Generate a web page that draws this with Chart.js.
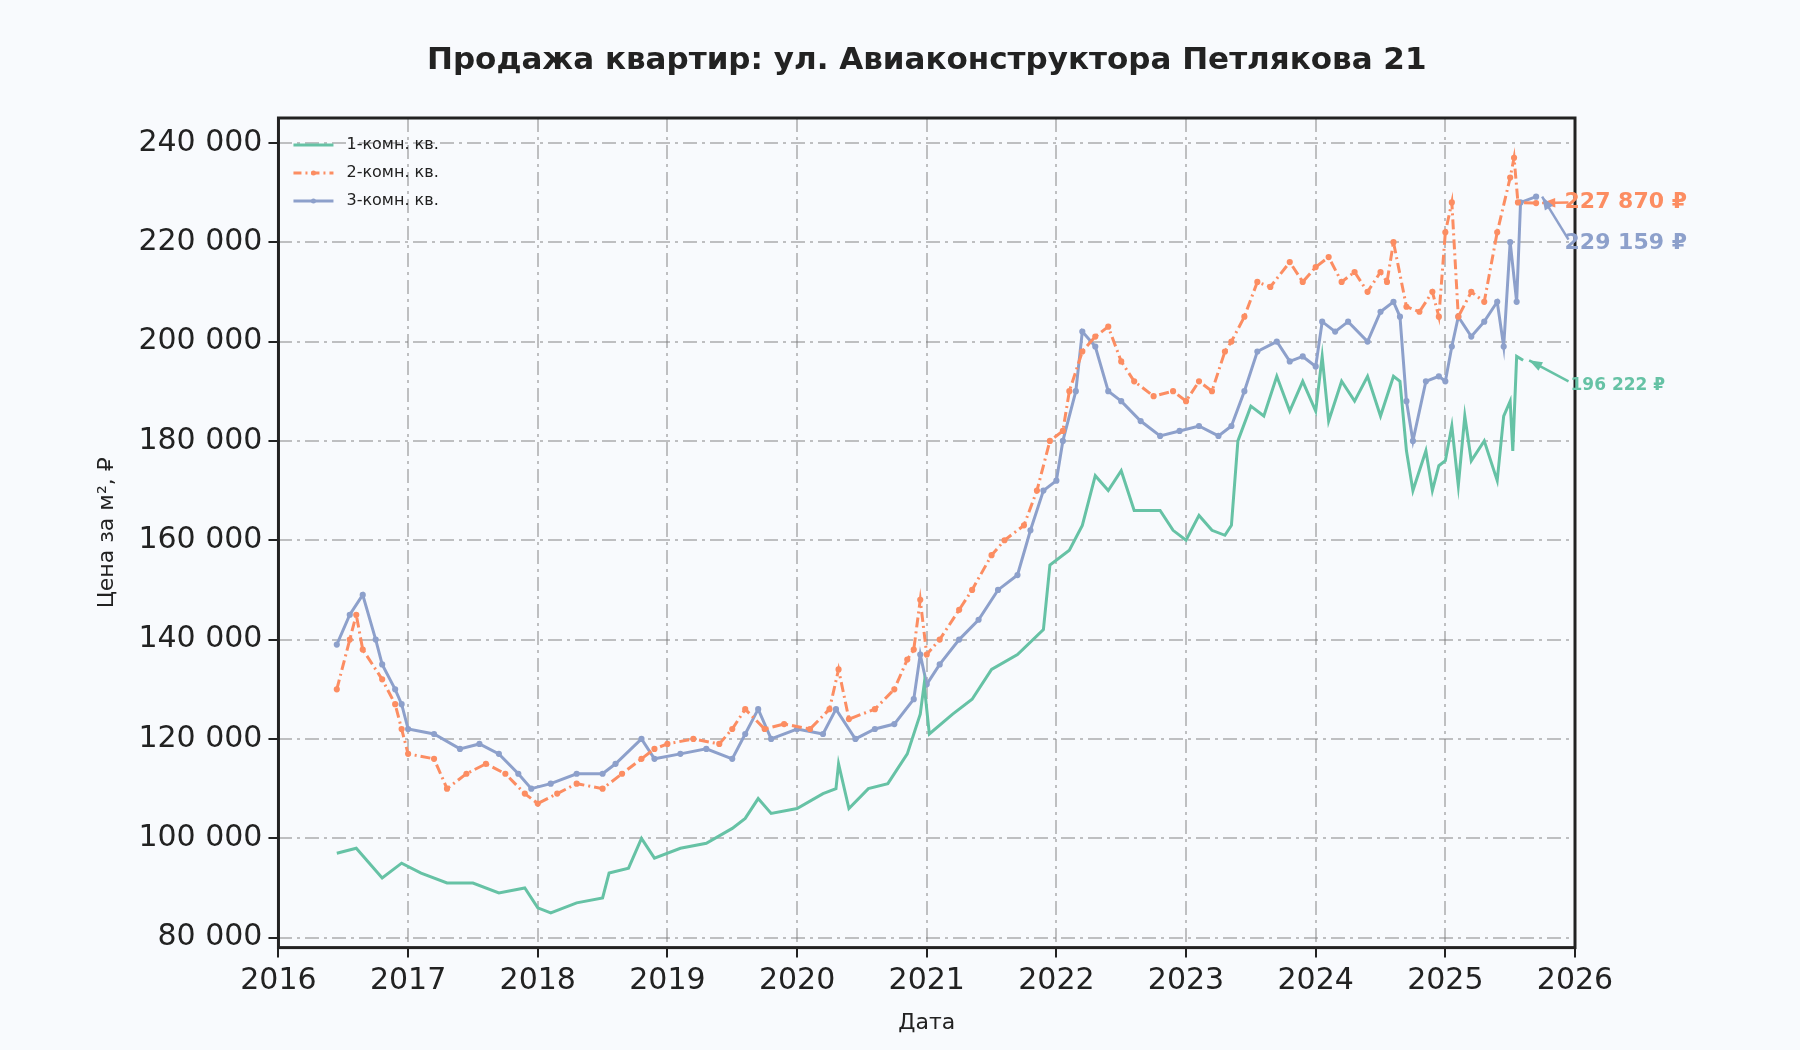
<!DOCTYPE html>
<html><head><meta charset="utf-8">
<script src="https://cdn.jsdelivr.net/npm/chart.js@4"></script>
<style>html,body{margin:0;background:#f8fafd}#w{width:1800px;height:1050px}</style>
</head><body><div id="w"><canvas id="c"></canvas></div>
<script>
const seriesNames=["1-комн. кв.","2-комн. кв.","3-комн. кв."];
const colors=["#66c2a5","#fc8d62","#8da0cb"];
const xTicks=[2016,2017,2018,2019,2020,2021,2022,2023,2024,2025,2026];
const one=[[2016.45,97000],[2016.6,98000],[2016.8,92000],[2016.95,95000],[2017.1,93000],[2017.3,91000],[2017.5,91000],[2017.7,89000],[2017.9,90000],[2018.0,86000],[2018.1,85000],[2018.3,87000],[2018.5,88000],[2018.55,93000],[2018.7,94000],[2018.8,100000],[2018.9,96000],[2019.1,98000],[2019.3,99000],[2019.5,102000],[2019.6,104000],[2019.7,108000],[2019.8,105000],[2020.0,106000],[2020.2,109000],[2020.3,110000],[2020.32,115000],[2020.4,106000],[2020.55,110000],[2020.7,111000],[2020.85,117000],[2020.95,125000],[2020.98,131000],[2021.02,121000],[2021.2,125000],[2021.35,128000],[2021.5,134000],[2021.7,137000],[2021.9,142000],[2021.95,155000],[2022.1,158000],[2022.2,163000],[2022.3,173000],[2022.4,170000],[2022.5,174000],[2022.6,166000],[2022.8,166000],[2022.9,162000],[2023.0,160000],[2023.1,165000],[2023.2,162000],[2023.3,161000],[2023.35,163000],[2023.4,180000],[2023.5,187000],[2023.6,185000],[2023.7,193000],[2023.8,186000],[2023.9,192000],[2024.0,186000],[2024.05,197000],[2024.1,184000],[2024.2,192000],[2024.3,188000],[2024.4,193000],[2024.5,185000],[2024.6,193000],[2024.65,192000],[2024.7,178000],[2024.75,170000],[2024.85,178000],[2024.9,170000],[2024.95,175000],[2025.0,176000],[2025.05,183000],[2025.1,171000],[2025.15,185000],[2025.2,176000],[2025.3,180000],[2025.4,172000],[2025.45,185000],[2025.5,188000],[2025.52,178000],[2025.55,197000],[2025.6,196222]];
const two=[[2016.45,130000],[2016.55,140000],[2016.6,145000],[2016.65,138000],[2016.8,132000],[2016.9,127000],[2016.95,122000],[2017.0,117000],[2017.2,116000],[2017.3,110000],[2017.45,113000],[2017.6,115000],[2017.75,113000],[2017.9,109000],[2018.0,107000],[2018.15,109000],[2018.3,111000],[2018.5,110000],[2018.65,113000],[2018.8,116000],[2018.9,118000],[2019.0,119000],[2019.2,120000],[2019.4,119000],[2019.5,122000],[2019.6,126000],[2019.75,122000],[2019.9,123000],[2020.1,122000],[2020.25,126000],[2020.32,134000],[2020.4,124000],[2020.6,126000],[2020.75,130000],[2020.85,136000],[2020.9,138000],[2020.95,148000],[2021.0,137000],[2021.1,140000],[2021.25,146000],[2021.35,150000],[2021.5,157000],[2021.6,160000],[2021.75,163000],[2021.85,170000],[2021.95,180000],[2022.05,182000],[2022.1,190000],[2022.2,198000],[2022.3,201000],[2022.4,203000],[2022.5,196000],[2022.6,192000],[2022.75,189000],[2022.9,190000],[2023.0,188000],[2023.1,192000],[2023.2,190000],[2023.3,198000],[2023.35,200000],[2023.45,205000],[2023.55,212000],[2023.65,211000],[2023.8,216000],[2023.9,212000],[2024.0,215000],[2024.1,217000],[2024.2,212000],[2024.3,214000],[2024.4,210000],[2024.5,214000],[2024.55,212000],[2024.6,220000],[2024.7,207000],[2024.8,206000],[2024.9,210000],[2024.95,205000],[2025.0,222000],[2025.05,228000],[2025.1,205000],[2025.2,210000],[2025.3,208000],[2025.4,222000],[2025.5,233000],[2025.53,237000],[2025.56,228000],[2025.7,227870]];
const three=[[2016.45,139000],[2016.55,145000],[2016.65,149000],[2016.75,140000],[2016.8,135000],[2016.9,130000],[2016.95,127000],[2017.0,122000],[2017.2,121000],[2017.4,118000],[2017.55,119000],[2017.7,117000],[2017.85,113000],[2017.95,110000],[2018.1,111000],[2018.3,113000],[2018.5,113000],[2018.6,115000],[2018.8,120000],[2018.9,116000],[2019.1,117000],[2019.3,118000],[2019.5,116000],[2019.6,121000],[2019.7,126000],[2019.8,120000],[2020.0,122000],[2020.2,121000],[2020.3,126000],[2020.45,120000],[2020.6,122000],[2020.75,123000],[2020.9,128000],[2020.95,137000],[2021.0,131000],[2021.1,135000],[2021.25,140000],[2021.4,144000],[2021.55,150000],[2021.7,153000],[2021.8,162000],[2021.9,170000],[2022.0,172000],[2022.05,180000],[2022.15,190000],[2022.2,202000],[2022.3,199000],[2022.4,190000],[2022.5,188000],[2022.65,184000],[2022.8,181000],[2022.95,182000],[2023.1,183000],[2023.25,181000],[2023.35,183000],[2023.45,190000],[2023.55,198000],[2023.7,200000],[2023.8,196000],[2023.9,197000],[2024.0,195000],[2024.05,204000],[2024.15,202000],[2024.25,204000],[2024.4,200000],[2024.5,206000],[2024.6,208000],[2024.65,205000],[2024.7,188000],[2024.75,180000],[2024.85,192000],[2024.95,193000],[2025.0,192000],[2025.05,199000],[2025.1,205000],[2025.2,201000],[2025.3,204000],[2025.4,208000],[2025.45,199000],[2025.5,220000],[2025.55,208000],[2025.58,228000],[2025.7,229159]];
const endLabels=[["196 222 ₽",192000,one],["227 870 ₽",228000,two],["229 159 ₽",220500,three]];
const fmt=v=>String(v).replace(/\B(?=(\d{3})+(?!\d))/g,' ');
const ds=(d,i,dash,pr,bw)=>({label:seriesNames[i],data:d.map(p=>({x:p[0],y:p[1]})),borderColor:colors[i],backgroundColor:colors[i],borderWidth:bw,borderDash:dash,pointRadius:pr,pointHoverRadius:0,tension:0});
const deco={id:'deco',afterDraw(ch){const c=ch.ctx,a=ch.chartArea,x=ch.scales.x,y=ch.scales.y;
c.save();c.strokeStyle='#222';c.lineWidth=3;c.strokeRect(a.left,a.top,a.right-a.left,a.bottom-a.top);
c.fillStyle='#222';c.font='bold 31px "DejaVu Sans"';c.textAlign='center';c.textBaseline='middle';
c.fillText('Продажа квартир: ул. Авиаконструктора Петлякова 21',(a.left+a.right)/2,61);c.textAlign='left';
c.font='16px "DejaVu Sans"';
seriesNames.forEach((n,i)=>{const yy=a.top+27+i*28;c.strokeStyle=colors[i];c.lineWidth=3;c.setLineDash(i==1?[8,4,2,4]:[]);c.beginPath();c.moveTo(a.left+15,yy);c.lineTo(a.left+55,yy);c.stroke();c.setLineDash([]);
if(i>0){c.fillStyle=colors[i];c.beginPath();c.arc(a.left+35,yy,2.5,0,7);c.fill();}
c.fillStyle='#222';c.fillText(n,a.left+68,yy);});
endLabels.forEach((e,i2)=>{const last=e[2][e[2].length-1];const col=colors[i2];
const lx=x.getPixelForValue(2025.95),ly=y.getPixelForValue(e[1]);const px=x.getPixelForValue(last[0]),py=y.getPixelForValue(last[1]);
c.strokeStyle=col;c.lineWidth=2.5;c.beginPath();c.moveTo(lx,ly);c.lineTo(px+6,py);c.stroke();
const ang=Math.atan2(py-ly,px+6-lx);c.fillStyle=col;c.beginPath();c.moveTo(px+6,py);c.lineTo(px+6-14*Math.cos(ang-0.35),py-14*Math.sin(ang-0.35));c.lineTo(px+6-14*Math.cos(ang+0.35),py-14*Math.sin(ang+0.35));c.fill();
c.font=(i2==0?'bold 17px':'bold 22px')+' "DejaVu Sans"';c.fillText(e[0],lx+(i2==0?2:-4),ly+(i2==0?4:(i2==2?4:0)));});
c.restore();}};
new Chart(document.getElementById('c'),{type:'line',data:{datasets:[ds(one,0,[],0,3),ds(two,1,[10,4,2,4],1.6,3),ds(three,2,[],1.6,3)]},
options:{responsive:true,maintainAspectRatio:false,animation:false,
layout:{padding:{left:90,right:225,top:118,bottom:10}},
plugins:{legend:{display:false},tooltip:{enabled:false},title:{display:false}},
scales:{x:{type:'linear',min:2016,max:2026,afterBuildTicks:s=>{s.ticks=xTicks.map(v=>({value:v}))},
ticks:{color:'#222',font:{family:'DejaVu Sans',size:30},callback:v=>String(v),maxRotation:0,padding:6},
grid:{color:'rgba(120,120,120,0.45)',lineWidth:2,tickLength:10,tickColor:'#222'},border:{display:false,dash:[14,5,3,5]},
title:{display:true,text:'Дата',color:'#222',font:{family:'DejaVu Sans',size:22}}},
y:{min:78000,max:245000,afterBuildTicks:s=>{s.ticks=[80000,100000,120000,140000,160000,180000,200000,220000,240000].map(v=>({value:v}))},
ticks:{color:'#222',font:{family:'DejaVu Sans',size:30},callback:v=>fmt(v),padding:6},
grid:{color:'rgba(120,120,120,0.45)',lineWidth:2,tickLength:10,tickColor:'#222'},border:{display:false,dash:[14,5,3,5]},
title:{display:true,text:'Цена за м², ₽',color:'#222',font:{family:'DejaVu Sans',size:22},padding:{bottom:12}}}}},plugins:[deco]});
</script></body></html>
